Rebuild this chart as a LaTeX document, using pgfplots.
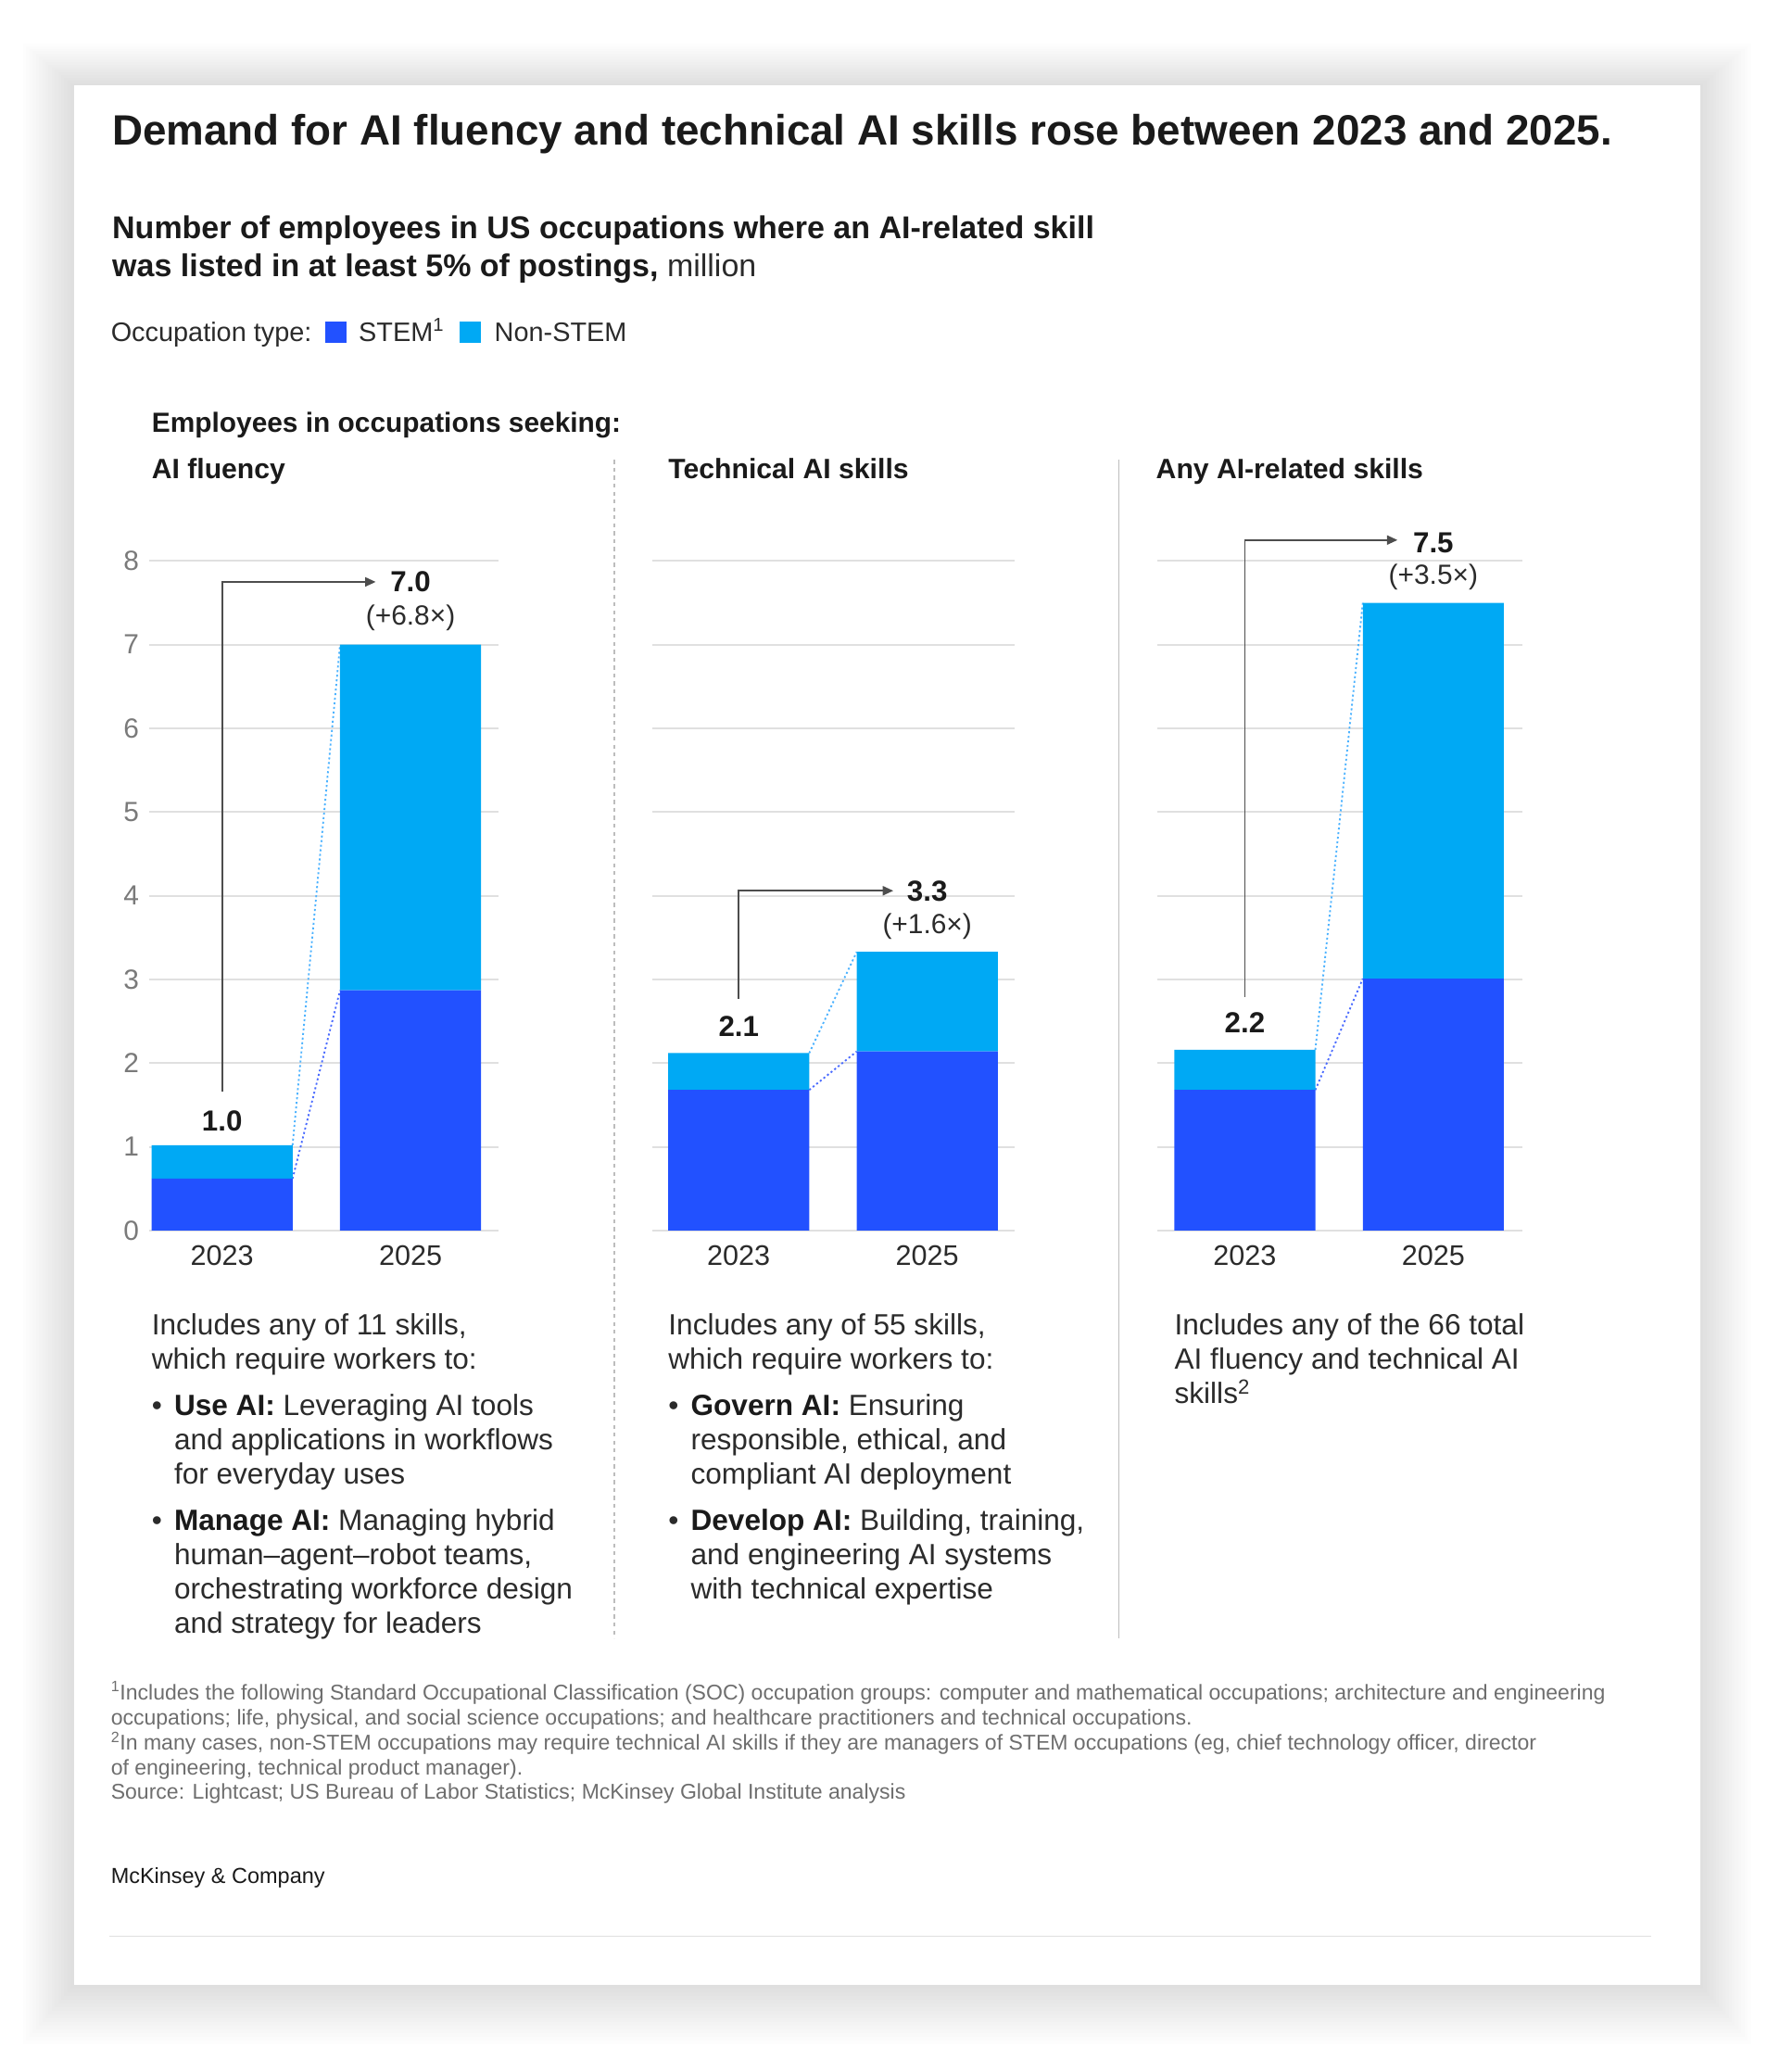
\documentclass[border=0pt]{standalone}
\usepackage{pgfplots}
\usepackage{pgfplotstable}
\pgfplotsset{compat=1.18}
\usepackage{fontspec}
\setmainfont{Liberation Sans}
\usetikzlibrary{arrows.meta}

\definecolor{stem}{HTML}{2251FF}
\definecolor{nonstem}{HTML}{00A9F4}
\definecolor{gridc}{HTML}{E0E0E0}
\definecolor{ink}{HTML}{1A1A1A}
\definecolor{body}{HTML}{2B2B2B}
\definecolor{muted}{HTML}{7A7A7A}
\definecolor{foot}{HTML}{6E6E6E}
\definecolor{arrowc}{HTML}{4D4D4D}
\definecolor{sepc}{HTML}{BDBDBD}
\definecolor{dotcyan}{HTML}{4DB3FF}
\definecolor{dotblue}{HTML}{4A6BFF}

\newcommand{\fs}[1]{\fontsize{#1}{#1}\selectfont}

% million employees, STEM and non-STEM
\pgfplotstableread{
x stem nonstem
0 0.62 0.40
1 2.87 4.13
}\fluency
\pgfplotstableread{
x stem nonstem
0 1.68 0.44
1 2.14 1.19
}\technical
\pgfplotstableread{
x stem nonstem
0 1.68 0.48
1 3.01 4.49
}\anyai

\pgfplotsset{panel/.style={
  scale only axis, height=508pt, anchor=south west,
  ybar stacked, bar width=107pt,
  ymin=0, ymax=8, ytick={0,...,8},
  ymajorgrids, major grid style={gridc, line width=1.3pt},
  axis line style={draw=none}, tick style={draw=none},
  xtick={0,1}, xticklabels={2023,2025},
  xticklabel style={font=\fs{21.5}, text=body, yshift=-8pt},
  yticklabel style={font=\fs{21}, text=muted, xshift=-4pt},
  /pgf/number format/assume math mode=true,
  clip=false, enlargelimits=false,
}}

\begin{document}
\begin{tikzpicture}[x=1pt,y=1pt]
\begin{scope}[y=-1pt]
  \useasboundingbox (0,0) rectangle (1350,1572);
  \fill[white] (0,0) rectangle (1350,1572);
  % soft shadow round the card
  \foreach \i in {1,...,16} {
    \fill[black, opacity=0.009] (56-2.4*\i,65-2.0*\i) rectangle (1290+2.4*\i,1506+2.8*\i);
  }
  \fill[white] (56,65) rectangle (1290,1506);

  % titles
  \node[anchor=base west, inner sep=0, font=\bfseries\fs{32.2}, text=ink] at (85,110)
    {Demand for AI fluency and technical AI skills rose between 2023 and 2025.};
  \node[anchor=base west, inner sep=0, font=\bfseries\fs{23.9}, text=ink] at (85,181)
    {Number of employees in US occupations where an AI-related skill};
  \node[anchor=base west, inner sep=0, font=\fs{23.9}, text=ink] at (85,210)
    {\textbf{was listed in at least 5\% of postings,} {\color{body}million}};

  % legend
  \node[anchor=base west, inner sep=0, font=\fs{20.3}, text=body] at (84,259) {Occupation type:};
  \fill[stem] (247,244) rectangle (263,260);
  \node[anchor=base west, inner sep=0, font=\fs{20.3}, text=body] at (272,259) {STEM\textsuperscript{1}};
  \fill[nonstem] (349,244) rectangle (365,260);
  \node[anchor=base west, inner sep=0, font=\fs{20.3}, text=body] at (375,259) {Non-STEM};

  \node[anchor=base west, inner sep=0, font=\bfseries\fs{21}, text=ink] at (115,328) {Employees in occupations seeking:};
  \node[anchor=base west, inner sep=0, font=\bfseries\fs{21.2}, text=ink] at (115,363) {AI fluency};
  \node[anchor=base west, inner sep=0, font=\bfseries\fs{21.2}, text=ink] at (507,363) {Technical AI skills};
  \node[anchor=base west, inner sep=0, font=\bfseries\fs{21.2}, text=ink] at (877,363) {Any AI-related skills};

  % separators
  \draw[sepc, line width=1pt, dash pattern=on 3pt off 3pt] (466,349) -- (466,1243);
  \draw[sepc, line width=1pt] (849,349) -- (849,1243);

  % panel texts
  \begin{scope}[every node/.style={anchor=base west, inner sep=0, font=\fs{22.2}, text=body}]
    \node at (115,1013) {Includes any of 11 skills,};
    \node at (115,1039) {which require workers to:};
    \node at (115,1074) {•};
    \node at (132,1074) {\textbf{\color{ink}Use AI:} Leveraging AI tools};
    \node at (132,1100) {and applications in workflows};
    \node at (132,1126) {for everyday uses};
    \node at (115,1161) {•};
    \node at (132,1161) {\textbf{\color{ink}Manage AI:} Managing hybrid};
    \node at (132,1187) {human–agent–robot teams,};
    \node at (132,1213) {orchestrating workforce design};
    \node at (132,1239) {and strategy for leaders};

    \node at (507,1013) {Includes any of 55 skills,};
    \node at (507,1039) {which require workers to:};
    \node at (507,1074) {•};
    \node at (524,1074) {\textbf{\color{ink}Govern AI:} Ensuring};
    \node at (524,1100) {responsible, ethical, and};
    \node at (524,1126) {compliant AI deployment};
    \node at (507,1161) {•};
    \node at (524,1161) {\textbf{\color{ink}Develop AI:} Building, training,};
    \node at (524,1187) {and engineering AI systems};
    \node at (524,1213) {with technical expertise};

    \node at (891,1013) {Includes any of the 66 total};
    \node at (891,1039) {AI fluency and technical AI};
    \node at (891,1065) {skills\textsuperscript{2}};
  \end{scope}

  % footnotes
  \begin{scope}[every node/.style={anchor=base west, inner sep=0, font=\fs{16.2}, text=foot}]
    \node at (84,1290) {\textsuperscript{1}Includes the following Standard Occupational Classification (SOC) occupation groups: computer and mathematical occupations; architecture and engineering};
    \node at (84,1309) {occupations; life, physical, and social science occupations; and healthcare practitioners and technical occupations.};
    \node at (84,1328) {\textsuperscript{2}In many cases, non-STEM occupations may require technical AI skills if they are managers of STEM occupations (eg, chief technology officer, director};
    \node at (84,1347) {of engineering, technical product manager).};
    \node at (84,1365) {Source: Lightcast; US Bureau of Labor Statistics; McKinsey Global Institute analysis};
  \end{scope}
  \node[anchor=base west, inner sep=0, font=\fs{16.5}, text=ink] at (84,1429) {McKinsey \& Company};
  \draw[gridc, line width=1.2pt] (83,1469) -- (1253,1469);
\end{scope}

% panel 1: AI fluency
\begin{axis}[panel, at={(113pt,-933.6pt)}, width=265pt, xmin=-0.388, xmax=1.465]
  \addplot[fill=stem, draw=none] table[x=x, y=stem] {\fluency};
  \addplot[fill=nonstem, draw=none] table[x=x, y=nonstem] {\fluency};
  \draw[dotcyan, line width=1.3pt, dash pattern=on 1.5pt off 2pt] (axis cs:0.374,1.02) -- (axis cs:0.626,7.0);
  \draw[dotblue, line width=1.3pt, dash pattern=on 1.5pt off 2pt] (axis cs:0.374,0.62) -- (axis cs:0.626,2.87);
  \draw[arrowc, line width=1.3pt, -{Triangle[length=8pt,width=7pt]}] (axis cs:0,1.66) |- (axis cs:0.815,7.75);
  \node[font=\bfseries\fs{22}, text=ink] at (axis cs:0,1.31) {1.0};
  \node[font=\bfseries\fs{22}, text=ink] at (axis cs:1,7.75) {7.0};
  \node[font=\fs{21}, text=body] at (axis cs:1,7.32) {(+6.8×)};
\end{axis}

% panel 2: technical AI skills
\begin{axis}[panel, at={(495pt,-933.6pt)}, width=275pt, xmin=-0.458, xmax=1.465, yticklabels={}]
  \addplot[fill=stem, draw=none] table[x=x, y=stem] {\technical};
  \addplot[fill=nonstem, draw=none] table[x=x, y=nonstem] {\technical};
  \draw[dotcyan, line width=1.3pt, dash pattern=on 1.5pt off 2pt] (axis cs:0.374,2.12) -- (axis cs:0.626,3.33);
  \draw[dotblue, line width=1.3pt, dash pattern=on 1.5pt off 2pt] (axis cs:0.374,1.68) -- (axis cs:0.626,2.14);
  \draw[arrowc, line width=1.3pt, -{Triangle[length=8pt,width=7pt]}] (axis cs:0,2.77) |- (axis cs:0.82,4.06);
  \node[font=\bfseries\fs{22}, text=ink] at (axis cs:0,2.44) {2.1};
  \node[font=\bfseries\fs{22}, text=ink] at (axis cs:1,4.06) {3.3};
  \node[font=\fs{21}, text=body] at (axis cs:1,3.63) {(+1.6×)};
\end{axis}

% panel 3: any AI-related skills
\begin{axis}[panel, at={(878pt,-933.6pt)}, width=277pt, xmin=-0.465, xmax=1.472, yticklabels={}]
  \addplot[fill=stem, draw=none] table[x=x, y=stem] {\anyai};
  \addplot[fill=nonstem, draw=none] table[x=x, y=nonstem] {\anyai};
  \draw[dotcyan, line width=1.3pt, dash pattern=on 1.5pt off 2pt] (axis cs:0.374,2.16) -- (axis cs:0.626,7.5);
  \draw[dotblue, line width=1.3pt, dash pattern=on 1.5pt off 2pt] (axis cs:0.374,1.68) -- (axis cs:0.626,3.01);
  \draw[arrowc, line width=1.3pt, -{Triangle[length=8pt,width=7pt]}] (axis cs:0,2.79) |- (axis cs:0.81,8.25);
  \node[font=\bfseries\fs{22}, text=ink] at (axis cs:0,2.48) {2.2};
  \node[font=\bfseries\fs{22}, text=ink] at (axis cs:1,8.22) {7.5};
  \node[font=\fs{21}, text=body] at (axis cs:1,7.81) {(+3.5×)};
\end{axis}
\end{tikzpicture}
\end{document}
